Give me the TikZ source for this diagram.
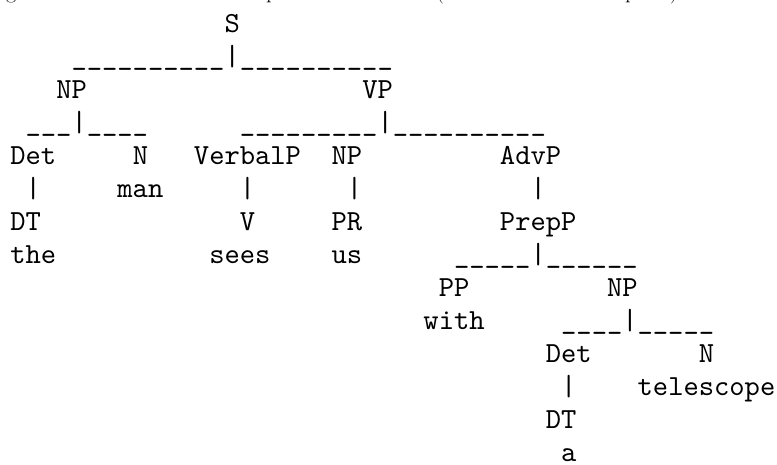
\documentclass[tikz,border=0pt]{standalone}
\usepackage{fontspec}
\newfontfamily\lmten{lmmono10-regular.otf}
\tikzset{
  tt/.style={anchor=base west, inner sep=0pt, outer sep=0pt, font=\fontsize{29.14pt}{33pt}\selectfont\lmten},
  captxt/.style={anchor=base west, inner sep=0pt, outer sep=0pt, font=\fontsize{22pt}{26pt}\selectfont\rmfamily}
}
\newcommand\tok[4]{\node[tt] (#1) at ({10.35pt+#2*15.3pt},{-32pt-#3*33.05pt}) {#4};}
\begin{document}
\begin{tikzpicture}
\useasboundingbox (0pt,0pt) rectangle (777pt,-464pt);
% cut-off caption line above the picture (only descenders visible)
\node[captxt] (c1) at (6pt,1.5pt) {g};
\node[captxt] (c2) at (266pt,1.5pt) {p};
\node[captxt] (c3) at (436pt,1.5pt) {(};
\node[captxt] (c4) at (625pt,1.5pt) {p};
\node[captxt] (c5) at (670pt,1.5pt) {)};
% row 0
\tok{S}{14}{0}{S}
% row 1
\tok{bar1}{4}{1}{\_\_\_\_\_\_\_\_\_\_|\_\_\_\_\_\_\_\_\_\_}
% row 2
\tok{np1}{3}{2}{NP}
\tok{vp}{23}{2}{VP}
% row 3
\tok{bar2l}{1}{3}{\_\_\_|\_\_\_\_}
\tok{bar2r}{15}{3}{\_\_\_\_\_\_\_\_\_|\_\_\_\_\_\_\_\_\_\_}
% row 4
\tok{det1}{0}{4}{Det}
\tok{n1}{8}{4}{N}
\tok{verbalp}{12}{4}{VerbalP}
\tok{np2}{21}{4}{NP}
\tok{advp}{32}{4}{AdvP}
% row 5
\tok{v1}{1}{5}{|}
\tok{man}{7}{5}{man}
\tok{v2}{15}{5}{|}
\tok{v3}{22}{5}{|}
\tok{v4}{34}{5}{|}
% row 6
\tok{dt1}{0}{6}{DT}
\tok{vv}{15}{6}{V}
\tok{pr}{21}{6}{PR}
\tok{prepp}{32}{6}{PrepP}
% row 7
\tok{the}{0}{7}{the}
\tok{sees}{13}{7}{sees}
\tok{us}{21}{7}{us}
\tok{bar3}{29}{7}{\_\_\_\_\_|\_\_\_\_\_\_}
% row 8
\tok{pp}{28}{8}{PP}
\tok{np3}{39}{8}{NP}
% row 9
\tok{with}{27}{9}{with}
\tok{bar4}{36}{9}{\_\_\_\_|\_\_\_\_\_}
% row 10
\tok{det2}{35}{10}{Det}
\tok{n2}{45}{10}{N}
% row 11
\tok{v5}{36}{11}{|}
\tok{telescope}{41}{11}{telescope}
% row 12
\tok{dt2}{35}{12}{DT}
% row 13
\tok{a}{36}{13}{a}
\end{tikzpicture}
\end{document}
